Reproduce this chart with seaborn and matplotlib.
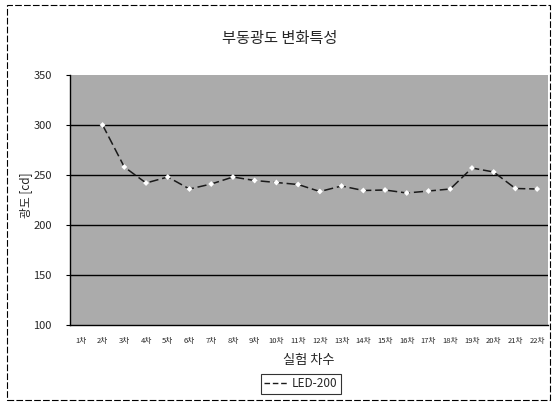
import numpy as np
import pandas as pd
import matplotlib
matplotlib.use("Agg")
import matplotlib.pyplot as plt
from matplotlib.patches import Rectangle
import seaborn as sns

# 실험 차수 and measured luminance (cd) of LED-200
runs = [f"{i}차" for i in range(1, 23)]
luminance = [np.nan, 300, 258, 242, 248, 236, 241, 248, 244.5, 242.5, 240.5,
             233.5, 239, 234.5, 235, 232, 234, 236, 257, 253, 236.5, 236]
series_name = "LED-200"
y_ticks = [100, 150, 200, 250, 300, 350]

df = pd.DataFrame({"run": runs, "value": luminance, "series": series_name})
df["pos"] = np.arange(len(runs))

sns.set_theme(style="white")
plt.rcParams["font.family"] = ["Noto Sans CJK KR", "DejaVu Sans"]

fig = plt.figure(figsize=(5.53, 4.05), dpi=100)
ax = fig.add_axes([70 / 553, 80 / 405, 478 / 553, 250 / 405])
ax.set_facecolor("#ababab")

for y in y_ticks[1:-1]:
    ax.axhline(y, color="black", lw=1.0, zorder=1)

sns.lineplot(data=df, x="pos", y="value", hue="series", palette=["#1a1a1a"],
             ax=ax, lw=1.1, zorder=3, legend=False)
for line in ax.lines[-1:]:
    line.set_dashes([6, 2.5])
ax.scatter(df["pos"], df["value"], marker="D", s=9, color="white",
           edgecolor="none", zorder=4)

ax.set_xlim(-0.5, len(runs) - 0.5)
ax.set_ylim(100, 350)
ax.set_yticks(y_ticks)
ax.set_yticklabels([str(v) for v in y_ticks], fontsize=8)
ax.set_xticks(np.arange(len(runs)))
ax.set_xticklabels(runs, fontsize=5.5)
ax.tick_params(axis="y", length=3, width=0.8, color="black", pad=10, direction="out", left=True)
ax.tick_params(axis="x", length=0, pad=9)

for side in ["top", "right"]:
    ax.spines[side].set_visible(False)
for side in ["left", "bottom"]:
    ax.spines[side].set_color("black")
    ax.spines[side].set_linewidth(1.0)

ax.set_xlabel("실험 차수", fontsize=9.5, labelpad=6)
ax.set_ylabel("")
fig.text(26 / 553, 1 - 195 / 405, "광도 [cd]", rotation=90, ha="center",
         va="center", fontsize=8.5)

fig.text(0.506, 0.905, "부동광도 변화특성", ha="center", va="center", fontsize=11)

# legend box
handle = plt.Line2D([], [], color="#1a1a1a", lw=1.0, dashes=[4, 2])
leg = fig.legend([handle], [series_name], loc="center", bbox_to_anchor=(0.544, 0.052),
                 frameon=True, fontsize=8.5, handlelength=2.0, handletextpad=0.3,
                 borderpad=0.3, fancybox=False, edgecolor="black")
leg.get_frame().set_linewidth(0.8)

# outer chart border
fig.patches.append(Rectangle((7 / 553, 5 / 405), 543 / 553, 395 / 405,
                             transform=fig.transFigure, fill=False,
                             edgecolor="black", lw=0.8, ls=(0, (6, 2))))

fig.savefig("out.png", dpi=100)
